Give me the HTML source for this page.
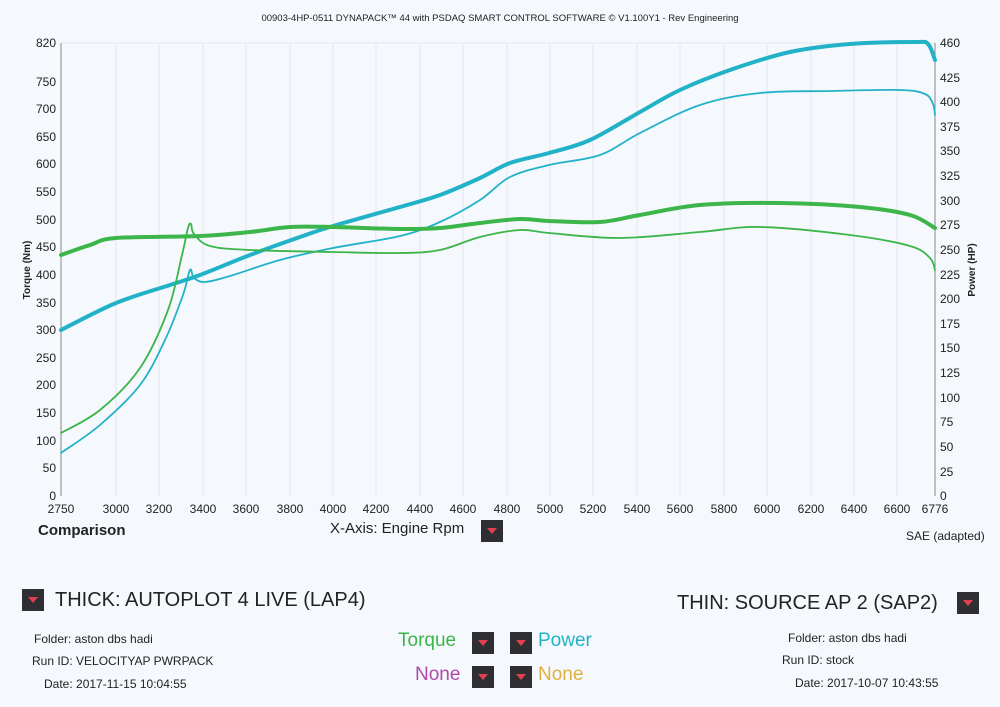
<!DOCTYPE html><html><head><meta charset="utf-8"><style>
body{margin:0;background:#f5f8fd;width:1000px;height:707px;overflow:hidden;font-family:"Liberation Sans",sans-serif}
.b{position:absolute;width:22px;height:22px;background:#2e2e33}
.b:after{content:"";position:absolute;left:6px;top:8px;border-left:5px solid transparent;border-right:5px solid transparent;border-top:6px solid #e04050}
.t{position:absolute;white-space:nowrap;color:#222}
</style></head><body>
<svg width="1000" height="707" style="position:absolute;left:0;top:0" font-family="Liberation Sans" font-size="12" fill="#222">
<text x="500" y="21" text-anchor="middle" font-size="9.5">00903-4HP-0511 DYNAPACK™ 44 with PSDAQ SMART CONTROL SOFTWARE © V1.100Y1 - Rev Engineering</text>
<g stroke="#e3e8f0" stroke-width="1">
<line x1="116" y1="43" x2="116" y2="496"/><line x1="159" y1="43" x2="159" y2="496"/><line x1="203" y1="43" x2="203" y2="496"/><line x1="246" y1="43" x2="246" y2="496"/><line x1="290" y1="43" x2="290" y2="496"/><line x1="333" y1="43" x2="333" y2="496"/><line x1="376" y1="43" x2="376" y2="496"/><line x1="420" y1="43" x2="420" y2="496"/><line x1="463" y1="43" x2="463" y2="496"/><line x1="507" y1="43" x2="507" y2="496"/><line x1="550" y1="43" x2="550" y2="496"/><line x1="593" y1="43" x2="593" y2="496"/><line x1="637" y1="43" x2="637" y2="496"/><line x1="680" y1="43" x2="680" y2="496"/><line x1="724" y1="43" x2="724" y2="496"/><line x1="767" y1="43" x2="767" y2="496"/><line x1="811" y1="43" x2="811" y2="496"/><line x1="854" y1="43" x2="854" y2="496"/><line x1="897" y1="43" x2="897" y2="496"/>
<line x1="61" y1="43" x2="935" y2="43"/>
</g>
<g stroke="#888" stroke-width="1"><line x1="61" y1="43" x2="61" y2="496"/><line x1="935" y1="43" x2="935" y2="496"/></g>
<g text-anchor="end">
<text x="56" y="47">820</text><text x="56" y="86">750</text><text x="56" y="113">700</text><text x="56" y="141">650</text><text x="56" y="168">600</text><text x="56" y="196">550</text><text x="56" y="224">500</text><text x="56" y="251">450</text><text x="56" y="279">400</text><text x="56" y="307">350</text><text x="56" y="334">300</text><text x="56" y="362">250</text><text x="56" y="389">200</text><text x="56" y="417">150</text><text x="56" y="445">100</text><text x="56" y="472">50</text><text x="56" y="500">0</text>
</g>
<g>
<text x="940" y="47">460</text><text x="940" y="82">425</text><text x="940" y="106">400</text><text x="940" y="131">375</text><text x="940" y="155">350</text><text x="940" y="180">325</text><text x="940" y="205">300</text><text x="940" y="229">275</text><text x="940" y="254">250</text><text x="940" y="279">225</text><text x="940" y="303">200</text><text x="940" y="328">175</text><text x="940" y="352">150</text><text x="940" y="377">125</text><text x="940" y="402">100</text><text x="940" y="426">75</text><text x="940" y="451">50</text><text x="940" y="476">25</text><text x="940" y="500">0</text>
</g>
<g text-anchor="middle">
<text x="61" y="513">2750</text><text x="116" y="513">3000</text><text x="159" y="513">3200</text><text x="203" y="513">3400</text><text x="246" y="513">3600</text><text x="290" y="513">3800</text><text x="333" y="513">4000</text><text x="376" y="513">4200</text><text x="420" y="513">4400</text><text x="463" y="513">4600</text><text x="507" y="513">4800</text><text x="550" y="513">5000</text><text x="593" y="513">5200</text><text x="637" y="513">5400</text><text x="680" y="513">5600</text><text x="724" y="513">5800</text><text x="767" y="513">6000</text><text x="811" y="513">6200</text><text x="854" y="513">6400</text><text x="897" y="513">6600</text><text x="935" y="513">6776</text>
</g>
<text transform="translate(30,270) rotate(-90)" text-anchor="middle" font-size="10" font-weight="bold">Torque (Nm)</text>
<text transform="translate(975,270) rotate(-90)" text-anchor="middle" font-size="10" font-weight="bold">Power (HP)</text>
<g fill="none" stroke-linejoin="round" stroke-linecap="round" id="cv">
<path stroke="#22b2c8" stroke-width="4" data-p="61,330 116,303 170,285 200,275 250,255 300,237 333,226 400,207 440,195 480,178 510,163 549,153 590,140 640,112 680,90 730,70 790,52 850,44 915,42 928,44 935,60"/>
<path stroke="#22b2c8" stroke-width="1.8" data-p="61,453 100,425 140,385 165,340 183,295 190,270 194,278 205,282 230,276 280,260 333,248 400,236 440,222 480,200 510,177 549,165 600,155 640,133 700,105 760,93 830,91 900,90 925,94 933,104 935,115"/>
<path stroke="#3cb54a" stroke-width="4" data-p="61,255 90,245 116,238 200,236 250,232 290,227 333,227 400,229 440,228 480,223 520,219 549,221 600,222 640,215 700,205 780,203 860,207 910,215 935,228"/>
<path stroke="#3cb54a" stroke-width="1.8" data-p="61,433 100,410 140,368 168,310 182,255 188,228 191,224 194,234 210,246 250,250 333,252 400,253 440,250 480,237 520,230 549,233 620,238 700,232 760,227 850,235 910,246 930,258 935,270"/>
</g>
</svg>
<script>
document.querySelectorAll('#cv path').forEach(function(el){
var p=el.getAttribute('data-p').split(' ').map(function(s){return s.split(',').map(Number)});
var d='M'+p[0][0]+','+p[0][1];
for(var i=0;i<p.length-1;i++){var a=p[i-1]||p[i],b=p[i],c=p[i+1],e=p[i+2]||c;
d+=' C'+(b[0]+(c[0]-a[0])/6)+','+(b[1]+(c[1]-a[1])/6)+' '+(c[0]-(e[0]-b[0])/6)+','+(c[1]-(e[1]-b[1])/6)+' '+c[0]+','+c[1];}
el.setAttribute('d',d);});
</script>
<div class="t" style="left:38px;top:522px;font-size:15px;font-weight:bold">Comparison</div>
<div class="t" style="left:330px;top:520px;font-size:15px">X-Axis: Engine Rpm</div>
<div class="b" style="left:481px;top:520px"></div>
<div class="t" style="left:906px;top:529px;font-size:12px">SAE (adapted)</div>
<div class="b" style="left:22px;top:589px"></div>
<div class="t" style="left:55px;top:589px;font-size:20px">THICK: AUTOPLOT 4 LIVE (LAP4)</div>
<div class="t" style="left:677px;top:592px;font-size:20px">THIN: SOURCE AP 2 (SAP2)</div>
<div class="b" style="left:957px;top:592px"></div>
<div class="t" style="left:34px;top:632px;font-size:12px">Folder: aston dbs hadi</div>
<div class="t" style="left:32px;top:654px;font-size:12px">Run ID: VELOCITYAP PWRPACK</div>
<div class="t" style="left:44px;top:677px;font-size:12px">Date: 2017-11-15 10:04:55</div>
<div class="t" style="left:788px;top:631px;font-size:12px">Folder: aston dbs hadi</div>
<div class="t" style="left:782px;top:653px;font-size:12px">Run ID: stock</div>
<div class="t" style="left:795px;top:676px;font-size:12px">Date: 2017-10-07 10:43:55</div>
<div class="t" style="left:398px;top:630px;font-size:19px;color:#3cb54a">Torque</div>
<div class="b" style="left:472px;top:632px"></div>
<div class="b" style="left:510px;top:632px"></div>
<div class="t" style="left:538px;top:630px;font-size:19px;color:#22b2c8">Power</div>
<div class="t" style="left:415px;top:664px;font-size:19px;color:#b04aa8">None</div>
<div class="b" style="left:472px;top:666px"></div>
<div class="b" style="left:510px;top:666px"></div>
<div class="t" style="left:538px;top:664px;font-size:19px;color:#e0b040">None</div>
</body></html>
